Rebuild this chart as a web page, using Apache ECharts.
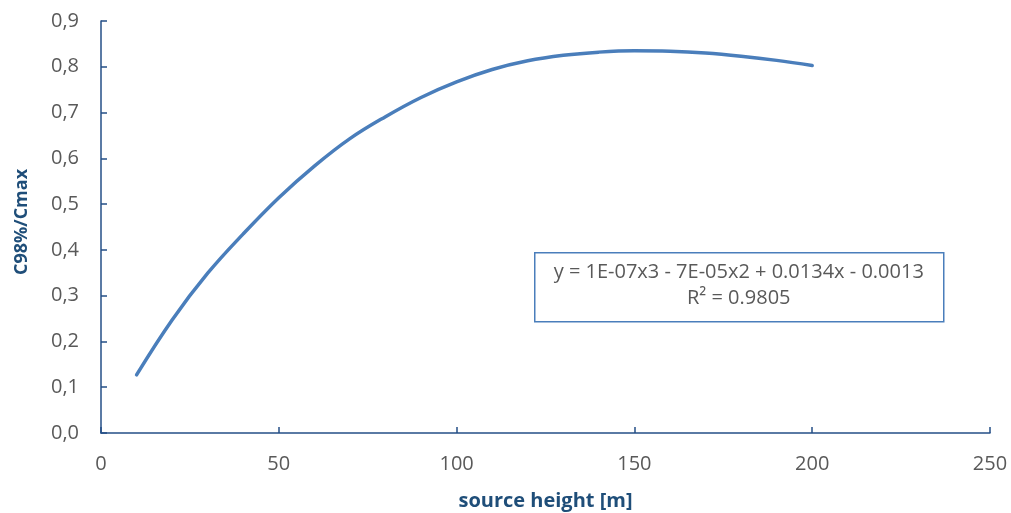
<!DOCTYPE html>
<html><head><meta charset="utf-8">
<script src="https://cdn.jsdelivr.net/npm/echarts@6/dist/echarts.min.js"></script>
<style>html,body{margin:0;padding:0;background:#fff}#c{width:1011px;height:513px}</style>
</head><body><div id="c"></div>
<script>
const sourceHeight = [10,20,30,40,50,60,70,80,90,100,110,120,130,140,150,160,170,180,190,200];
const ratio = [0.127,0.247,0.349,0.435,0.514,0.583,0.643,0.691,0.733,0.767,0.794,0.813,0.825,0.832,0.835,0.834,0.830,0.823,0.814,0.803];
const equationText = 'y = 1E-07x3 - 7E-05x2 + 0.0134x - 0.0013';
const r2Text = 'R² = 0.9805';
const xTitle = 'source height [m]';
const yTitle = 'C98%/Cmax';

const chart = echarts.init(document.getElementById('c'), null, {renderer:'canvas'});
const axisColor = '#254f87';
const labelColor = '#595959';
const font = '"Open Sans", "Noto Sans", sans-serif';
chart.setOption({
  animation:false,
  grid:{left:101,right:21,top:21,bottom:80,containLabel:false,outerBoundsMode:'none'},
  xAxis:{type:'value',min:0,max:250,interval:50,
    name:xTitle,nameLocation:'middle',nameGap:58,
    nameTextStyle:{color:'#1f4e79',fontWeight:'bold',fontSize:20,fontFamily:font},
    axisLine:{lineStyle:{color:axisColor,width:1.5}},
    axisTick:{show:true,inside:true,length:6,lineStyle:{color:axisColor,width:1.5}},
    axisLabel:{color:labelColor,fontSize:20,margin:21,fontFamily:font},
    splitLine:{show:false}},
  yAxis:{type:'value',min:0,max:0.9,interval:0.1,
    name:yTitle,nameLocation:'middle',nameGap:70,nameRotate:90,
    nameTextStyle:{color:'#1f4e79',fontWeight:'bold',fontSize:18,fontFamily:font,padding:[0,0,0,10]},
    axisLine:{show:true,lineStyle:{color:axisColor,width:1.5}},
    axisTick:{show:true,inside:true,length:6,lineStyle:{color:axisColor,width:1.5}},
    axisLabel:{color:labelColor,fontSize:20,margin:22,fontFamily:font,
      formatter:v=>v.toFixed(1).replace('.',',')},
    splitLine:{show:false}},
  series:[{type:'line',data:sourceHeight.map((x,i)=>[x,ratio[i]]),smooth:0.4,
    symbol:'none',lineStyle:{color:'#4a7ebb',width:3.5,cap:'round'}}],
  graphic:[{type:'group',left:534,top:252,children:[
    {type:'rect',shape:{x:0,y:0,width:409,height:69},style:{fill:'#fff',stroke:'#4a7ebb',lineWidth:1.5}},
    {type:'text',x:204,y:10,style:{text:equationText,fill:labelColor,fontSize:20,fontFamily:font,textAlign:'center'}},
    {type:'text',x:204,y:36,style:{text:r2Text,fill:labelColor,fontSize:20,fontFamily:font,textAlign:'center'}}
  ]}]
});
</script></body></html>
